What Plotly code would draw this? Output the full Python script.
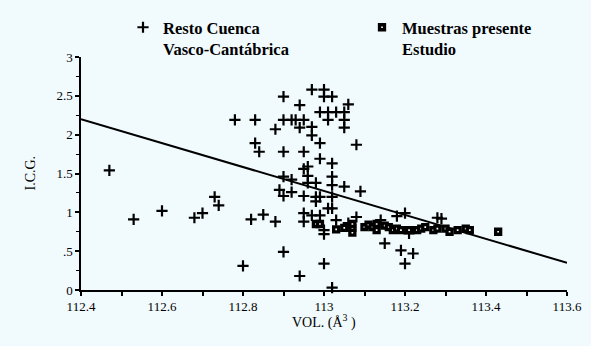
import plotly.graph_objects as go

# Resto Cuenca Vasco-Cantábrica (+)
resto_x = [112.47, 112.53, 112.60, 112.68, 112.70, 112.73, 112.74, 112.78, 112.80, 112.82,
           112.83, 112.83, 112.84, 112.85, 112.88, 112.88, 112.90, 112.90, 112.90, 112.90,
           112.89, 112.90, 112.90, 112.92, 112.93, 112.92, 112.92, 112.94, 112.94, 112.95,
           112.95, 112.95, 112.95, 112.95, 112.95, 112.94, 112.97, 112.97, 112.97, 112.96,
           112.96, 112.96, 112.98, 112.97, 112.98, 112.99, 112.98, 112.99, 112.99, 112.99,
           112.99, 113.00, 113.00, 113.00, 113.00, 113.00, 113.01, 113.01, 113.01, 113.02,
           113.02, 113.02, 113.02, 113.02, 113.02, 113.02, 113.03, 113.05, 113.05, 113.05,
           113.06, 113.05, 113.03, 113.08, 113.09, 113.08, 113.15, 113.18, 113.20, 113.19,
           113.22, 113.20, 113.21, 113.28, 113.29, 113.14, 113.06]
resto_y = [1.54, 0.91, 1.02, 0.93, 0.99, 1.20, 1.09, 2.19, 0.31, 0.91,
           2.19, 1.89, 1.78, 0.97, 2.07, 0.88, 2.49, 2.19, 1.78, 1.46,
           1.29, 1.21, 0.49, 2.19, 2.19, 1.42, 1.26, 2.38, 2.09, 2.19,
           1.78, 1.56, 1.21, 0.99, 0.88, 0.18, 2.58, 2.10, 1.99, 1.59,
           1.47, 1.38, 1.38, 0.96, 1.20, 1.20, 1.14, 0.96, 2.29, 1.89,
           1.69, 2.58, 2.49, 0.77, 0.72, 0.34, 2.29, 2.19, 1.05, 1.05,
           2.49, 1.63, 1.46, 1.35, 1.20, 0.03, 2.29, 2.29, 2.19, 2.09,
           2.39, 1.33, 0.90, 1.87, 1.27, 0.94, 0.60, 0.95, 0.99, 0.51,
           0.47, 0.34, 0.73, 0.93, 0.92, 0.90, 0.86]

# Muestras presente Estudio (squares)
muestras_x = [112.98, 112.99, 113.03, 113.05, 113.07, 113.07, 113.07, 113.10, 113.11, 113.12,
              113.13, 113.13, 113.15, 113.16, 113.17, 113.18, 113.19, 113.21, 113.23, 113.24,
              113.25, 113.27, 113.28, 113.30, 113.31, 113.33, 113.35, 113.36, 113.43]
muestras_y = [0.85, 0.85, 0.78, 0.80, 0.74, 0.80, 0.85, 0.81, 0.84, 0.81,
              0.77, 0.85, 0.83, 0.81, 0.77, 0.79, 0.77, 0.77, 0.77, 0.79,
              0.81, 0.77, 0.79, 0.79, 0.75, 0.77, 0.79, 0.77, 0.75]

# Regression line endpoints
line_x = [112.4, 113.6]
line_y = [2.20, 0.35]

x_tickvals = [112.4, 112.6, 112.8, 113.0, 113.2, 113.4, 113.6]
x_ticktext = ["112.4", "112.6", "112.8", "113", "113.2", "113.4", "113.6"]
y_tickvals = [0, 0.5, 1, 1.5, 2, 2.5, 3]
y_ticktext = ["0", ".5", "1", "1.5", "2", "2.5", "3"]

serif = "Liberation Serif, Times New Roman, serif"
bg = "#f1fafd"
W, H = 591, 346

fig = go.Figure()
fig.add_trace(go.Scatter(
    x=line_x, y=line_y, mode="lines", line=dict(color="black", width=2),
    showlegend=False, hoverinfo="skip"))
fig.add_trace(go.Scatter(
    x=resto_x, y=resto_y, mode="markers",
    name="<b>Resto Cuenca<br>Vasco-Cantábrica</b>",
    marker=dict(symbol="cross-thin", size=8, line=dict(color="black", width=2.2), color="black"),
    cliponaxis=False, legend="legend"))
fig.add_trace(go.Scatter(
    x=muestras_x, y=muestras_y, mode="markers",
    name="<b>Muestras presente<br>Estudio</b>",
    marker=dict(symbol="square", size=5, color="white", line=dict(color="black", width=3.3)),
    cliponaxis=False, legend="legend2"))

legend_common = dict(xref="container", yref="container", xanchor="left", yanchor="top",
                     font=dict(family=serif, size=16.5, color="black"),
                     bgcolor="rgba(0,0,0,0)", valign="top", borderwidth=0)

fig.update_layout(
    width=W, height=H,
    margin=dict(l=81, r=24, t=57, b=56, autoexpand=False),
    paper_bgcolor=bg, plot_bgcolor=bg,
    font=dict(family=serif, color="black", size=13),
    legend=dict(x=123 / W, y=1 - 10 / H, **legend_common),
    legend2=dict(x=362 / W, y=1 - 10 / H, **legend_common),
    showlegend=True,
    annotations=[
        dict(text="VOL. (Å<sup>3</sup> )", xref="paper", yref="paper", x=0.5, y=0,
             xanchor="center", yanchor="top", yshift=-20, showarrow=False,
             font=dict(family=serif, size=14, color="black")),
        dict(text="I.C.G.", xref="paper", yref="paper", x=0, y=0.5,
             xanchor="center", yanchor="middle", xshift=-51, textangle=-90, showarrow=False,
             font=dict(family=serif, size=14, color="black")),
    ],
)
fig.update_xaxes(
    range=[112.4, 113.6], tickvals=x_tickvals, ticktext=x_ticktext,
    showgrid=False, zeroline=False, showline=True, linecolor="black", linewidth=1.5,
    ticks="outside", ticklen=4, tickwidth=1.5, tickcolor="black",
    tickfont=dict(family=serif, size=13),
    minor=dict(dtick=0.1, tick0=112.4, ticks="outside", ticklen=4, tickwidth=1.5, tickcolor="black"))
fig.update_yaxes(
    range=[0, 3], tickvals=y_tickvals, ticktext=y_ticktext,
    showgrid=False, zeroline=False, showline=True, linecolor="black", linewidth=1.5,
    ticks="outside", ticklen=4, tickwidth=1.5, tickcolor="black",
    tickfont=dict(family=serif, size=13),
    minor=dict(dtick=0.25, ticks="outside", ticklen=3, tickwidth=1, tickcolor="black"))

fig.write_html("out.html", config={"displayModeBar": False},
               post_script="document.body.style.margin='0px';")
